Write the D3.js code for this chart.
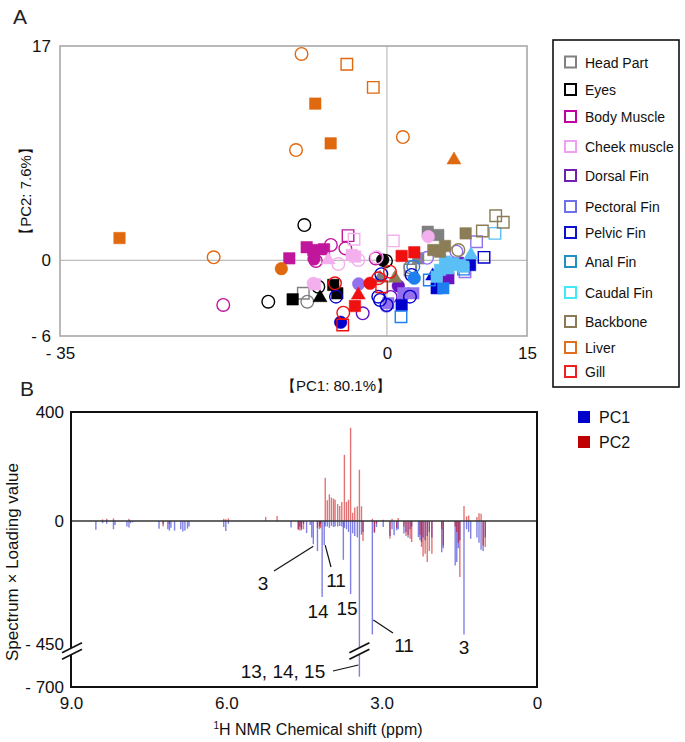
<!DOCTYPE html>
<html><head><meta charset="utf-8">
<script src="https://cdn.jsdelivr.net/npm/d3@7"></script>
<style>body{margin:0;background:#fff}svg{display:block}text{font-family:"Liberation Sans",Arial,sans-serif}</style>
</head><body>
<svg id="c" width="685" height="742"></svg>
<script>
// ---------- Panel A data ----------
const tissues = ["Head Part","Eyes","Body Muscle","Cheek muscle","Dorsal Fin","Pectoral Fin","Pelvic Fin","Anal Fin","Caudal Fin","Backbone","Liver","Gill"];
const markerColors = ["#808080","#000000","#C0169C","#F4B0EE","#6A12C4","#9370EE","#0000CC","#1E80F0","#5BC0F5","#8B7D55","#E0680F","#F01010"];
const legendColors = ["#808080","#000000","#C000A0","#F0A0F0","#7020B0","#7070E8","#1010D0","#2090C0","#40E8F8","#8A7A55","#E07020","#F02020"];
// [PC1, PC2, marker]  fs filled square, os open square, fc filled circle, oc open circle, ft filled triangle
const headPart = [[4.37,2.27,"fs"],[5.5,2.01,"fs"],[3.36,0.16,"fs"],[-8.95,-2.61,"os"],[2.48,-0.77,"os"],[-0.74,-1.42,"ft"],[-8.52,-3.28,"oc"],[2.51,-0.55,"oc"]];
const eyes = [[-10.09,-3.09,"fs"],[-5.74,-1.95,"fs"],[-5.31,-2.61,"fs"],[-12.7,-3.28,"oc"],[-8.84,2.8,"oc"],[-7.34,-2.09,"oc"],[-7.16,-2.96,"ft"],[-0.45,0.03,"fc"],[-0.1,-0.05,"oc"]];
const bodyMuscle = [[-10.45,0.16,"fs"],[-8.59,1.04,"fs"],[-7.88,0.82,"fs"],[-6.73,0.88,"fs"],[-7.81,0.11,"fc"],[-6.0,1.22,"oc"],[-4.45,0.95,"oc"],[-17.52,-3.54,"oc"],[-7.6,-0.05,"oc"],[-4.16,1.96,"os"],[-1.2,0.15,"oc"]];
const cheekMuscle = [[4.43,1.88,"fc"],[-7.88,-1.82,"fc"],[-3.77,0.43,"fs"],[-3.4,0.3,"fs"],[-7.7,-1.9,"fs"],[-3.52,1.67,"os"],[0.69,1.54,"os"],[-5.2,-0.29,"oc"],[-3.06,0.03,"oc"],[-1.09,0.24,"oc"],[-6.27,0.03,"ft"]];
const dorsalFin = [[1.22,-2.03,"fc"],[6.58,-1.42,"fs"],[-2.59,-4.2,"oc"],[7.6,-0.2,"fs"],[0.4,-2.9,"oc"]];
const pectoralFin = [[-3.02,-1.87,"fc"],[1.76,-2.61,"fs"],[2.83,-2.61,"fs"],[0.15,-3.4,"fs"],[9.6,1.48,"os"],[8.36,-0.9,"os"],[7.44,0.69,"oc"],[4.3,0.2,"oc"],[-0.05,-3.6,"oc"]];
const pelvicFin = [[-4.95,-4.91,"fc"],[1.58,-3.54,"fs"],[5.33,-2.21,"fs"],[8.9,-0.37,"fs"],[4.9,-1.24,"ft"],[-0.74,-3.14,"oc"],[-0.92,-2.88,"oc"],[-0.02,-3.54,"oc"],[-5.45,-2.88,"oc"],[2.47,-2.88,"oc"],[2.65,-1.16,"oc"],[10.4,0.24,"os"],[-0.6,-1.1,"oc"]];
const analFin = [[2.93,-1.42,"fc"],[6.04,-2.21,"fs"],[1.51,-4.47,"os"],[4.54,-1.56,"os"],[2.83,-0.5,"oc"],[8.2,-0.7,"os"]];
const caudalFin = [[9.0,0.43,"ft"],[6.22,-0.1,"fs"],[7.11,-0.24,"fs"],[7.83,-0.37,"fs"],[5.69,-0.76,"fs"],[6.58,-0.63,"fs"],[8.18,-0.5,"fs"],[5.33,-1.29,"fs"],[11.57,2.14,"os"]];
const backbone = [[4.97,0.82,"fs"],[6.22,1.14,"fs"],[5.69,0.69,"fs"],[8.43,2.14,"fs"],[7.65,0.82,"oc"],[10.22,2.33,"os"],[11.65,3.54,"os"],[12.46,3.02,"os"],[0.87,-1.42,"ft"]];
const liver = [[-9.14,16.37,"oc"],[-4.29,15.55,"os"],[-1.46,13.72,"os"],[-7.67,12.43,"fs"],[-6.02,9.28,"fs"],[-9.73,8.75,"oc"],[1.71,9.78,"oc"],[7.18,7.96,"ft"],[-28.63,1.77,"fs"],[-18.55,0.24,"oc"],[-11.3,-0.66,"fc"]];
const gill = [[1.58,0.35,"fs"],[2.93,0.64,"fs"],[-3.42,-3.62,"fs"],[-1.81,-1.82,"fc"],[-3.06,-2.75,"ft"],[-0.92,-1.42,"oc"],[0.33,-0.9,"oc"],[-4.67,-4.15,"oc"],[-5.56,-1.82,"oc"],[-0.56,-2.09,"os"],[-4.73,-5.13,"os"]];
const groups = [headPart,eyes,bodyMuscle,cheekMuscle,dorsalFin,pectoralFin,pelvicFin,analFin,caudalFin,backbone,liver,gill];
const xTicksA = [-35,0,15];
const yTicksA = [17,0,-6];

// ---------- Panel B data ----------
const ppm   = [8.52,8.39,8.31,8.18,8.15,7.92,7.88,7.85,7.81,7.30,7.22,7.13,7.10,7.07,7.00,6.88,6.84,6.80,6.75,6.72,6.05,6.01,5.96,5.24,5.02,4.75,4.61,4.58,4.55,4.51,4.45,4.38,4.35,4.32,4.24,4.20,4.18,4.15,4.11,4.09,4.05,4.01,3.97,3.93,3.90,3.85,3.81,3.77,3.74,3.72,3.68,3.64,3.60,3.56,3.52,3.47,3.43,3.39,3.36,3.18,3.14,3.10,2.97,2.84,2.80,2.76,2.71,2.68,2.57,2.53,2.49,2.45,2.42,2.29,2.26,2.23,2.20,2.16,2.12,2.08,2.03,1.84,1.81,1.58,1.55,1.52,1.49,1.41,1.36,1.32,1.28,1.16,1.12,1.08,1.04,1.00];
const pc1Load = [-32,-8,-10,-30,-15,-20,-24,-8,-5,-28,-12,-30,-35,-25,-35,-30,-38,-35,-28,-20,-22,-37,-10,0,0,-24,-30,-20,-34,-10,-44,-15,-60,-85,-110,-20,-10,-278,-88,-20,-20,-25,-18,-22,-20,-20,-18,-20,-142,-25,-30,-40,-267,-45,-55,-60,-640,-50,-40,-415,-40,-22,-22,-55,-30,-52,-34,-30,-46,-40,-60,-30,-20,-59,-70,-77,-60,-70,-55,-40,-60,-114,-100,-163,-150,-100,-70,-415,-30,-40,-65,-60,-80,-105,-110,-60];
const pc2Load = [0,6,8,10,0,0,8,0,0,0,-20,0,-10,0,0,0,0,0,0,0,8,6,10,15,18,0,-32,-35,-28,-30,0,0,0,0,-25,-30,-25,0,0,159,76,98,86,82,78,62,55,70,0,243,70,78,342,30,50,54,188,54,-73,8,-44,-10,5,-65,8,0,-25,11,-20,-55,-50,-65,-77,0,-50,-95,-130,-120,-150,-110,-120,-30,-89,-20,-40,-80,-205,55,17,20,0,15,28,27,-90,-95];
const yTicksB = [400,0,-450,-700];
const xTicksB = [9,6,3,0];
const annotations = ["3","11","14","15","11","3","13, 14, 15"];

// ---------- drawing ----------
const svg = d3.select("#c");
const FONT = '"Liberation Sans",Arial,sans-serif';
const CJK = '"Liberation Sans","Noto Sans CJK JP",sans-serif';

// Panel A
const xA = d3.scaleLinear().domain([-35,15]).range([60,527]);
const yA = d3.scaleLinear().domain([-6,17]).range([336,46]);
svg.append("text").attr("x",13).attr("y",24).attr("font-size",21).attr("fill","#222").text("A");
svg.append("line").attr("x1",xA(0)).attr("x2",xA(0)).attr("y1",yA(17)).attr("y2",yA(-6)).attr("stroke","#bdbdbd").attr("stroke-width",1.2);
svg.append("line").attr("x1",xA(-35)).attr("x2",xA(15)).attr("y1",yA(0)).attr("y2",yA(0)).attr("stroke","#bdbdbd").attr("stroke-width",1.2);
svg.append("rect").attr("x",60).attr("y",46).attr("width",467).attr("height",290).attr("fill","none").attr("stroke","#a8a8a8").attr("stroke-width",1.6);

const fmt = d => d < 0 ? "- " + (-d) : String(d);
const axA_y = svg.append("g").attr("transform","translate(60,0)").call(d3.axisLeft(yA).tickValues(yTicksA).tickSize(0).tickPadding(9).tickFormat(fmt));
const axA_x = svg.append("g").attr("transform","translate(0,336)").call(d3.axisBottom(xA).tickValues(xTicksA).tickSize(0).tickPadding(11).tickFormat(fmt));
[axA_y,axA_x].forEach(g=>{g.select(".domain").remove();g.selectAll("text").attr("font-size",17).attr("font-family",FONT).attr("fill","#111");});

svg.append("text").attr("x",336).attr("y",391).attr("text-anchor","middle").attr("font-size",15).attr("font-family",CJK).attr("fill","#111").text("【PC1: 80.1%】");
svg.append("text").attr("transform","translate(31,191) rotate(-90)").attr("text-anchor","middle").attr("font-size",15).attr("font-family",CJK).attr("fill","#111").text("【PC2: 7.6%】");

const symSq = d3.symbol().type(d3.symbolSquare).size(132)();
const symCi = d3.symbol().type(d3.symbolCircle).size(125)();
const symTr = d3.symbol().type(d3.symbolTriangle).size(85)();
const pts = svg.append("g");
const order = ["oc","os","fc","fs","ft"];
groups.forEach((g,i)=>{
  g.forEach(p=>{
    const t = p[2], c = markerColors[i];
    const path = t[1]==="s" ? symSq : t[1]==="c" ? symCi : symTr;
    const filled = t[0]==="f";
    pts.append("path").attr("d",path).attr("transform",`translate(${xA(p[0])},${yA(p[1])})`)
      .attr("fill",filled?c:"none").attr("stroke",c).attr("stroke-width",filled?0.5:1.4);
  });
});

// Legend
svg.append("rect").attr("x",553).attr("y",40).attr("width",126).attr("height",347).attr("fill","#fff").attr("stroke","#111").attr("stroke-width",1.6);
const legY = [62.5,90,117,147,176,207,233,262,293,322,348,372];
tissues.forEach((t,i)=>{
  svg.append("rect").attr("x",565).attr("y",legY[i]-6).attr("width",11).attr("height",11).attr("fill","#fff").attr("stroke",legendColors[i]).attr("stroke-width",2);
  svg.append("text").attr("x",585).attr("y",legY[i]+5).attr("font-size",14).attr("fill","#111").text(t);
});

// Panel B
const xB = d3.scaleLinear().domain([9,0]).range([71,537]);
const yB = d3.scaleLinear().domain([-700,-450,0,400]).range([687,644,521,412]);
svg.append("text").attr("x",20).attr("y",396).attr("font-size",21).attr("fill","#222").text("B");

const bars = svg.append("g");
ppm.forEach((p,i)=>{
  if (pc1Load[i]!==0) bars.append("line").attr("x1",xB(p)).attr("x2",xB(p)).attr("y1",yB(0)).attr("y2",yB(pc1Load[i])).attr("stroke","#0000CC").attr("stroke-opacity",0.5).attr("stroke-width",1.4);
});
ppm.forEach((p,i)=>{
  if (pc2Load[i]!==0) bars.append("line").attr("x1",xB(p)).attr("x2",xB(p)).attr("y1",yB(0)).attr("y2",yB(pc2Load[i])).attr("stroke","#CC0000").attr("stroke-opacity",0.55).attr("stroke-width",1.4);
});
svg.append("line").attr("x1",71).attr("x2",537).attr("y1",yB(0)).attr("y2",yB(0)).attr("stroke","#333").attr("stroke-width",1.3);
svg.append("rect").attr("x",71).attr("y",412).attr("width",466).attr("height",275).attr("fill","none").attr("stroke","#111").attr("stroke-width",2);

// break marks
function breakMark(cx,cy){
  const w=10, s=5, gap=3.2;
  svg.append("polygon").attr("points",`${cx-w},${cy+s-gap} ${cx+w},${cy-s-gap} ${cx+w},${cy-s+gap} ${cx-w},${cy+s+gap}`).attr("fill","#fff");
  [-gap,gap].forEach(o=>svg.append("line").attr("x1",cx-w).attr("y1",cy+s+o).attr("x2",cx+w).attr("y2",cy-s+o).attr("stroke","#111").attr("stroke-width",1.8));
}
breakMark(72,651);
breakMark(xB(3.43),651);

const axB_y = svg.append("g").attr("transform","translate(71,0)").call(d3.axisLeft(yB).tickValues(yTicksB).tickSize(0).tickPadding(7).tickFormat(fmt));
const axB_x = svg.append("g").attr("transform","translate(0,687)").call(d3.axisBottom(xB).tickValues(xTicksB).tickSize(0).tickPadding(10).tickFormat(d=>d===0?"0":d.toFixed(1)));
[axB_y,axB_x].forEach(g=>{g.select(".domain").remove();g.selectAll("text").attr("font-size",17).attr("font-family",FONT).attr("fill","#111");});

svg.append("text").attr("transform","translate(18,562) rotate(-90)").attr("text-anchor","middle").attr("font-size",17).attr("fill","#111").text("Spectrum × Loading value");
const xt = svg.append("text").attr("x",318).attr("y",735).attr("text-anchor","middle").attr("font-size",16).attr("fill","#111");
xt.append("tspan").attr("font-size",10).attr("dy",-6).text("1");
xt.append("tspan").attr("dy",6).text("H NMR Chemical shift (ppm)");

// PC legend
[["PC1","#0000CC",417],["PC2","#C00000",442]].forEach(d=>{
  svg.append("rect").attr("x",578).attr("y",d[2]-6).attr("width",12).attr("height",12).attr("fill",d[1]);
  svg.append("text").attr("x",599).attr("y",d[2]+6).attr("font-size",16).attr("fill","#111").text(d[0]);
});

// annotations
const annPos = [[263,590],[336,587],[318,618],[347,615],[404,652],[464,654],[283,678]];
annotations.forEach((t,i)=>{
  svg.append("text").attr("x",annPos[i][0]).attr("y",annPos[i][1]).attr("text-anchor","middle").attr("font-size",19).attr("fill","#111").text(t);
});
const annLines = [[274,571,xB(4.32),yB(-85)+2],[331,567,xB(4.11)+1,yB(-88)],[393,633,xB(3.18)+1,620],[333,671,xB(3.43)-1,665]];
annLines.forEach(l=>svg.append("line").attr("x1",l[0]).attr("y1",l[1]).attr("x2",l[2]).attr("y2",l[3]).attr("stroke","#111").attr("stroke-width",1.2));
</script>
</body></html>
